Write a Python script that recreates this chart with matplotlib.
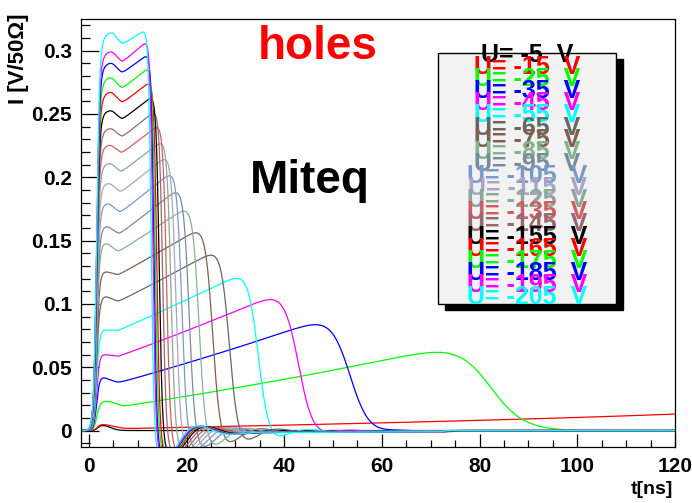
import numpy as np
import matplotlib
matplotlib.use("Agg")
import matplotlib.pyplot as plt
from matplotlib.patches import Rectangle
from matplotlib.ticker import MultipleLocator, FuncFormatter

# ---------------- data ----------------
voltages = [-5, -15, -25, -35, -45, -55, -65, -75, -85, -95, -105,
            -115, -125, -135, -145, -155, -165, -175, -185, -195, -205]
colors = ['#000000', '#ff0000', '#00ff00', '#0000ff', '#ff00ff', '#00ffff',
          '#666666', '#7f5f50', '#84b48f', '#7b8a99', '#7899cc', '#aaa5c4',
          '#8ba898', '#cf5e61', '#946a70', '#000000', '#ff0000', '#00ff00',
          '#0000ff', '#ff00ff', '#00ffff']
# first (early) maximum of each pulse
bump_val = [0.004, 0.0047, 0.0231, 0.0423, 0.0604, 0.0795, 0.1057, 0.1254,
            0.1478, 0.161, 0.179, 0.195, 0.2108, 0.2252, 0.2383, 0.2525,
            0.267, 0.2785, 0.290, 0.299, 0.314]
bump_t = [2.8, 2.8, 3.6, 2.2, 2.0, 2.5, 3.3, 3.3, 3.3, 3.6, 3.8, 4.0, 4.2,
          4.3, 4.4, 4.4, 4.4, 4.4, 4.5, 4.5, 4.6]
# local minimum after the first maximum
dip_val = [0.0, 0.0015, 0.0191, 0.0376, 0.0585, 0.079, 0.1018, 0.1228,
           0.141, 0.155, 0.172, 0.188, 0.204, 0.2189, 0.2317, 0.2455,
           0.2585, 0.2698, 0.2821, 0.2906, 0.3047]
dip_t = [6, 7, 7, 6, 6, 6, 6, 6, 6, 6.2, 6.4, 6.5, 6.6, 6.7, 6.8, 6.8, 6.8,
         6.8, 6.8, 6.8, 6.8]
# late maximum (end of the drift)
peak_val = [0.0, 0.013, 0.062, 0.089, 0.109, 0.128, 0.145, 0.162, 0.179,
            0.194, 0.207, 0.219, 0.231, 0.243, 0.254, 0.265, 0.276, 0.287,
            0.297, 0.307, 0.316]
peak_t = [100, 120, 68, 48.3, 39, 33.3, 27.2, 23.7, 21.0, 19.2, 17.8, 16.6,
          15.7, 14.8, 14.0, 13.3, 12.7, 12.3, 12.0, 11.7, 11.3]
# middle of the falling edge and its width
fall_t = [400, 400, 82, 53.3, 42.8, 34.6, 28.7, 25.3, 22.5, 20.5, 19.0, 17.8,
          16.8, 15.9, 15.1, 14.4, 13.9, 13.6, 13.3, 13.1, 12.75]
fall_w = [1.0, 1.0, 3.5, 2.0, 1.5, 1.05, 0.85, 0.75, 0.65, 0.58, 0.52, 0.47,
          0.42, 0.38, 0.35, 0.32, 0.3, 0.3, 0.28, 0.28, 0.28]

# electronics: rising edge and ringing after the falling edge
rise_t, rise_w = 1.6, 0.3
ring_amp, ring_tau, ring_period = 0.13, 5.0, 14.0
tail_amp, tail_tau = 0.0065, 80.0

t = np.arange(-1.6, 120.0001, 0.02)
dt = 0.02
tau = np.arange(0, 60, dt)
h = (ring_amp * np.exp(-tau / ring_tau) * np.sin(2 * np.pi * tau / ring_period)
     + tail_amp * np.exp(-tau / tail_tau))


def pulse(i):
    R = 1.0 / (1.0 + np.exp(-np.clip((t - rise_t) / rise_w, -60, 60)))
    sig = (dip_t[i] - bump_t[i]) / 2.0
    B = np.where(t < bump_t[i],
                 np.exp(-(t - bump_t[i]) ** 2 / (2 * 1.6 ** 2)),
                 np.exp(-(t - bump_t[i]) ** 2 / (2 * sig ** 2)))
    d, p = dip_val[i], peak_val[i]
    u = np.clip((t - dip_t[i]) / (peak_t[i] - dip_t[i]), 0, None)
    if d > 0 and p > d * 1.001:
        r = p / d
        e = (r ** np.minimum(u, 1) - 1) / (r - 1)
        gp = 0.7 + 0.3 * r * np.log(r) / (r - 1)
        g = np.where(u <= 1, 0.7 * u + 0.3 * e, 1 + gp * (u - 1))
    else:
        g = u
    base = d + (p - d) * g
    s_nf = R * (base + (bump_val[i] - d) * B)
    F = 1.0 / (1.0 + np.exp(np.clip((t - fall_t[i]) / fall_w[i], -60, 60)))
    dF = -F * (1 - F) / fall_w[i]
    ring = np.convolve(s_nf * dF, h)[:len(t)] * dt
    return s_nf * F + ring


W, H = 692, 503
fig = plt.figure(figsize=(W / 100, H / 100), dpi=100)
ax = fig.add_axes([81 / W, 1 - 447 / H, (675 - 81) / W, (447 - 19) / H])

for i in range(len(voltages)):
    ax.plot(t, pulse(i), color=colors[i], lw=0.9)

ax.set_xlim(-1.6, 120)
ax.set_ylim(-0.013, 0.325)
ax.xaxis.set_major_locator(MultipleLocator(20))
ax.xaxis.set_minor_locator(MultipleLocator(5))
ax.yaxis.set_major_locator(MultipleLocator(0.05))
ax.yaxis.set_minor_locator(MultipleLocator(0.01))
ax.yaxis.set_major_formatter(FuncFormatter(lambda v, p: '%g' % round(v, 3)))
ax.tick_params(axis='both', which='both', direction='in', top=False, right=False)
ax.tick_params(axis='y', which='major', length=13, width=0.9, pad=6.5)
ax.tick_params(axis='y', which='minor', length=6.5, width=0.9)
ax.tick_params(axis='x', which='major', length=9.5, width=0.9, pad=7)
ax.tick_params(axis='x', which='minor', length=4.7, width=0.9)
for lab in ax.get_xticklabels() + ax.get_yticklabels():
    lab.set_fontfamily('Liberation Sans')
    lab.set_fontweight('bold')
    lab.set_fontsize(15)
for sp in ax.spines.values():
    sp.set_linewidth(0.9)

fs = dict(family='Liberation Sans', weight='bold')
fig.text(19 / W, 1 - 14 / H, 'I [V/50\u03a9]', rotation=90, ha='center', va='top',
         fontsize=16, **fs)
fig.text(673 / W, 1 - 490 / H, 't[ns]', ha='right', va='center', fontsize=14, **fs)
fig.text(318 / W, 1 - 47 / H, 'holes', color='#ff0000', ha='center', va='center',
         fontsize=33, **fs)
fig.text(310 / W, 1 - 181 / H, 'Miteq', color='black', ha='center', va='center',
         fontsize=33, **fs)

# legend box with shadow
lx0, ly0, lx1, ly1 = 438, 53, 616, 304
fig.add_artist(Rectangle(((lx0 + 7) / W, 1 - (ly1 + 6) / H), (lx1 - lx0) / W,
                         (ly1 - ly0) / H, transform=fig.transFigure,
                         facecolor='black', edgecolor='black', zorder=5))
fig.add_artist(Rectangle((lx0 / W, 1 - ly1 / H), (lx1 - lx0) / W,
                         (ly1 - ly0) / H, transform=fig.transFigure,
                         facecolor='#f2f2f2', edgecolor='black', lw=1.0, zorder=6))
for i, v in enumerate(voltages):
    fig.text(527 / W, 1 - (55 + 12.1 * i) / H, 'U= %d  V' % v, color=colors[i],
             ha='center', va='center', fontsize=18, zorder=7, **fs)

fig.savefig('out.png', dpi=100)
